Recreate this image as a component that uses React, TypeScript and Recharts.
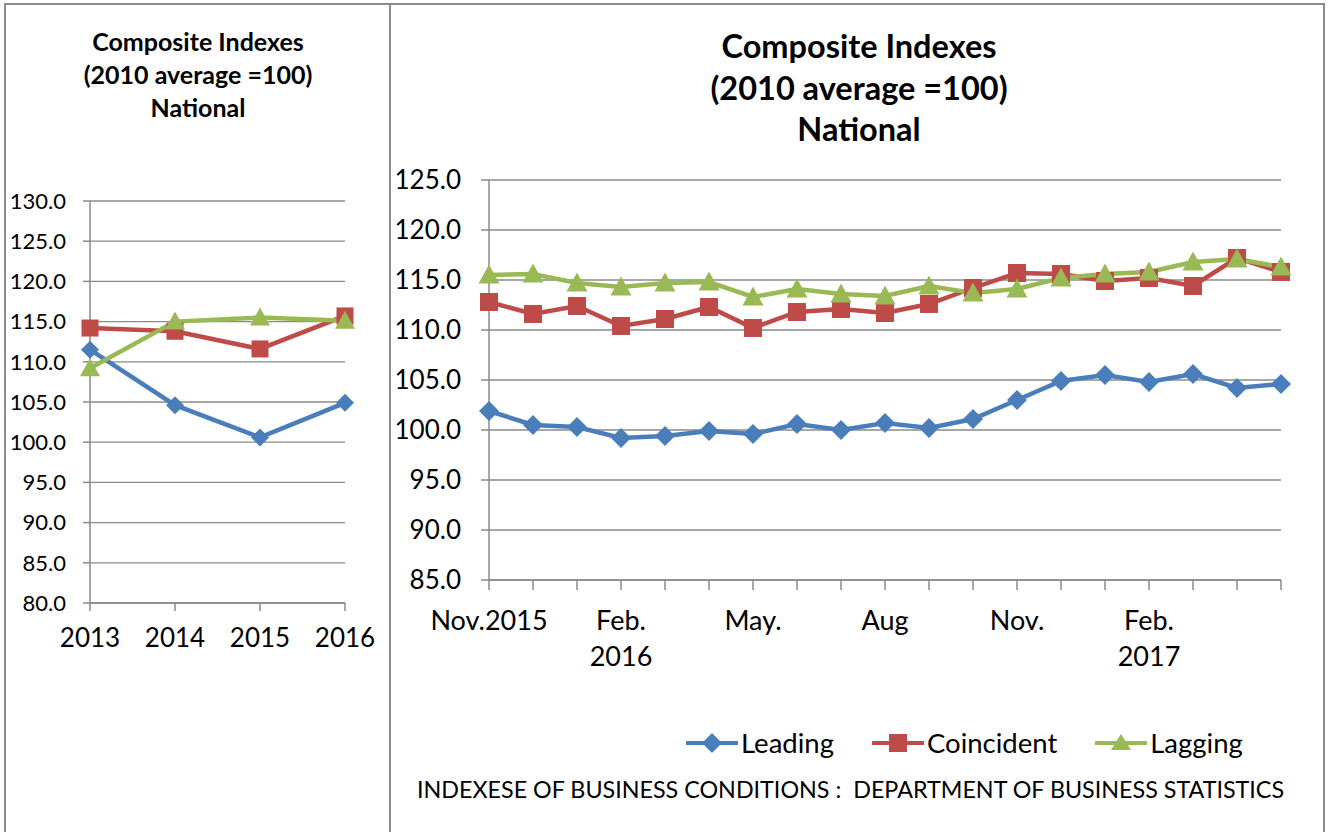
import React from 'react'
import { LineChart, Line, XAxis, YAxis, CartesianGrid, Legend } from 'recharts'

// annual panel
const years = ['2013', '2014', '2015', '2016']
const leadingYear = [111.5, 104.6, 100.6, 104.9]
const coincidentYear = [114.2, 113.8, 111.6, 115.7]
const laggingYear = [109.2, 115.0, 115.5, 115.1]

// monthly panel, Nov.2015 .. May 2017
const months = [
  '2015-11', '2015-12', '2016-01', '2016-02', '2016-03', '2016-04', '2016-05',
  '2016-06', '2016-07', '2016-08', '2016-09', '2016-10', '2016-11', '2016-12',
  '2017-01', '2017-02', '2017-03', '2017-04', '2017-05',
]
const monthTicks = [
  'Nov.2015', '', '', 'Feb.|2016', '', '', 'May.', '', '', 'Aug', '', '',
  'Nov.', '', '', 'Feb.|2017', '', '', '',
]
const leadingMonth = [101.9, 100.5, 100.3, 99.2, 99.4, 99.9, 99.6, 100.6, 100.0, 100.7, 100.2, 101.1, 103.0, 104.9, 105.5, 104.8, 105.6, 104.2, 104.6]
const coincidentMonth = [112.8, 111.6, 112.4, 110.4, 111.1, 112.3, 110.2, 111.8, 112.1, 111.7, 112.6, 114.2, 115.7, 115.6, 114.9, 115.2, 114.4, 117.2, 115.8]
const laggingMonth = [115.5, 115.6, 114.7, 114.3, 114.7, 114.8, 113.3, 114.1, 113.6, 113.4, 114.4, 113.7, 114.1, 115.2, 115.6, 115.8, 116.8, 117.1, 116.3]

const leftTicks = [80, 85, 90, 95, 100, 105, 110, 115, 120, 125, 130]
const rightTicks = [85, 90, 95, 100, 105, 110, 115, 120, 125]

const BLUE = '#4a7ebb'
const RED = '#be4b48'
const GREEN = '#98b954'
const GRID = '#8a8a8a'
const FONT = 'Lato, "Open Sans", sans-serif'

const yearData = years.map((y, i) => ({
  name: y, leading: leadingYear[i], coincident: coincidentYear[i], lagging: laggingYear[i],
}))
const monthData = months.map((m, i) => ({
  name: m, label: monthTicks[i], leading: leadingMonth[i], coincident: coincidentMonth[i], lagging: laggingMonth[i],
}))

const diamond = (r: number) => (p: any) => (
  <polygon key={`d${p.index}`} fill={BLUE}
    points={`${p.cx},${p.cy - r} ${p.cx + r},${p.cy} ${p.cx},${p.cy + r} ${p.cx - r},${p.cy}`} />
)
const square = (r: number) => (p: any) => (
  <rect key={`s${p.index}`} fill={RED} x={p.cx - r} y={p.cy - r} width={2 * r} height={2 * r} />
)
const triangle = (r: number) => (p: any) => (
  <polygon key={`t${p.index}`} fill={GREEN}
    points={`${p.cx},${p.cy - r} ${p.cx + r},${p.cy + r * 0.8} ${p.cx - r},${p.cy + r * 0.8}`} />
)

function MonthTick(props: any) {
  const { x, y, index } = props
  const text = monthTicks[index] || ''
  if (!text) return null
  const lines = text.split('|')
  return (
    <text x={x} y={y} textAnchor="middle" fill="#000" fontSize={27} fontFamily={FONT}>
      {lines.map((l, i) => (
        <tspan key={i} x={x} dy={i === 0 ? 38 : 36}>{l}</tspan>
      ))}
    </text>
  )
}

const legendItems = [
  { label: 'Leading', color: BLUE, shape: 'diamond' },
  { label: 'Coincident', color: RED, shape: 'square' },
  { label: 'Lagging', color: GREEN, shape: 'triangle' },
]

function LegendContent() {
  return (
    <div style={{ display: 'flex', alignItems: 'center', fontFamily: FONT, fontSize: 27.5, lineHeight: '33px', color: '#000' }}>
      {legendItems.map((it) => (
        <div key={it.label} style={{ display: 'flex', alignItems: 'center', marginRight: 38 }}>
          <svg width={52} height={22}>
            <line x1={1} y1={11} x2={51} y2={11} stroke={it.color} strokeWidth={4} strokeLinecap="round" />
            {it.shape === 'diamond' && <polygon fill={it.color} points="26,1 36,11 26,21 16,11" />}
            {it.shape === 'square' && <rect fill={it.color} x={17} y={2} width={18} height={18} />}
            {it.shape === 'triangle' && <polygon fill={it.color} points="26,2 36,18 16,18" />}
          </svg>
          <span style={{ marginLeft: 3 }}>{it.label}</span>
        </div>
      ))}
    </div>
  )
}

export default function App() {
  return (
    <div style={{ position: 'absolute', left: 0, top: 0, width: 1328, height: 832, background: '#fff', overflow: 'hidden', fontFamily: FONT }}>
      {/* frame */}
      <div style={{ position: 'absolute', left: 4, top: 3, width: 1321, height: 840, border: '2px solid #8c8c8c', boxSizing: 'border-box' }} />
      <div style={{ position: 'absolute', left: 389, top: 3, width: 2, height: 840, background: '#8c8c8c' }} />

      {/* left title */}
      <div style={{ position: 'absolute', left: 6, width: 384, top: 25, textAlign: 'center', fontWeight: 700, fontSize: 25, lineHeight: '33px' }}>
        Composite Indexes<br />(2010 average =100)<br />National
      </div>
      {/* right title */}
      <div style={{ position: 'absolute', left: 391, width: 936, top: 25, textAlign: 'center', fontWeight: 700, fontSize: 32.5, lineHeight: '41.5px' }}>
        Composite Indexes<br />(2010 average =100)<br />National
      </div>

      <div style={{ position: 'absolute', left: 5, top: 4 }}>
        <LineChart width={384} height={828} data={yearData} margin={{ top: 197, right: 44, left: 0, bottom: 189 }}>
          <CartesianGrid vertical={false} stroke={GRID} strokeWidth={1.3} />
          <XAxis dataKey="name" height={40} stroke={GRID} strokeWidth={1.5} tickSize={8} tickMargin={18}
            tick={{ fill: '#000', fontSize: 26, fontFamily: FONT }} interval={0} />
          <YAxis width={85} domain={[80, 130]} ticks={leftTicks} stroke={GRID} strokeWidth={1.5} tickSize={7} tickMargin={17}
            tickFormatter={(v: number) => v.toFixed(1)} tick={{ fill: '#000', fontSize: 22, fontFamily: FONT }} interval={0} />
          <Line dataKey="leading" stroke={BLUE} strokeWidth={4.5} dot={diamond(9)} isAnimationActive={false} />
          <Line dataKey="coincident" stroke={RED} strokeWidth={4.5} dot={square(8.5)} isAnimationActive={false} />
          <Line dataKey="lagging" stroke={GREEN} strokeWidth={4.5} dot={triangle(10)} isAnimationActive={false} />
        </LineChart>
      </div>

      <div style={{ position: 'absolute', left: 389, top: 4 }}>
        <LineChart width={937} height={828} data={monthData} margin={{ top: 176, right: 45, left: 0, bottom: 159 }}>
          <CartesianGrid vertical={false} stroke={GRID} strokeWidth={1.3} />
          <XAxis dataKey="name" height={60} stroke={GRID} strokeWidth={1.5} tickSize={10} tick={<MonthTick />} interval={0} />
          <YAxis width={100} domain={[85, 125]} ticks={rightTicks} stroke={GRID} strokeWidth={1.5} tickSize={8} tickMargin={20}
            tickFormatter={(v: number) => v.toFixed(1)} tick={{ fill: '#000', fontSize: 26, fontFamily: FONT }} interval={0} />
          <Line dataKey="leading" stroke={BLUE} strokeWidth={4.5} dot={diamond(10)} isAnimationActive={false} />
          <Line dataKey="coincident" stroke={RED} strokeWidth={4.5} dot={square(9)} isAnimationActive={false} />
          <Line dataKey="lagging" stroke={GREEN} strokeWidth={4.5} dot={triangle(10.5)} isAnimationActive={false} />
          <Legend content={<LegendContent />} wrapperStyle={{ left: 297, top: 722, width: 'auto', bottom: 'auto' }} />
        </LineChart>
      </div>

      <div style={{ position: 'absolute', left: 417, top: 775, fontSize: 23.3, whiteSpace: 'pre', color: '#000' }}>
        {'INDEXESE OF BUSINESS CONDITIONS :  DEPARTMENT OF BUSINESS STATISTICS'}
      </div>
    </div>
  )
}
